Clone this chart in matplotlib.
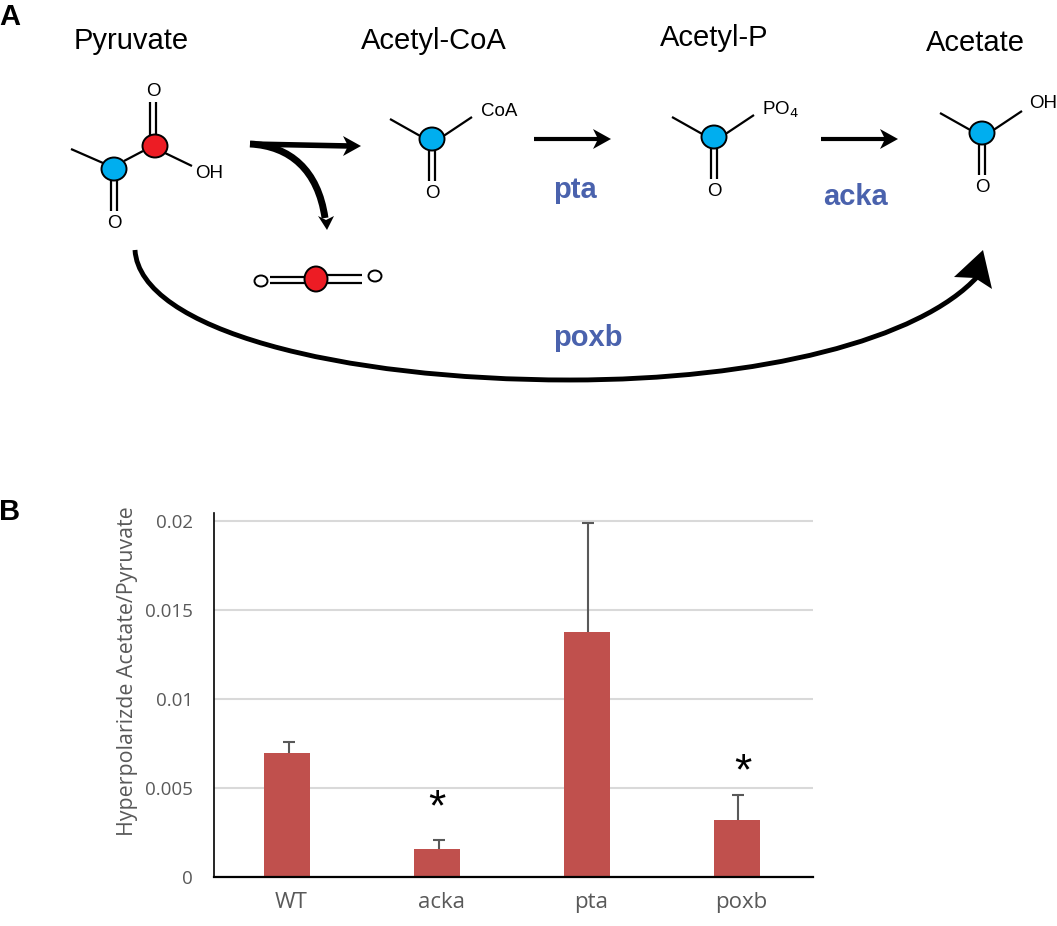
import matplotlib
matplotlib.use("Agg")
import matplotlib.pyplot as plt
from matplotlib.patches import Ellipse, PathPatch, Polygon
from matplotlib.path import Path
from matplotlib.transforms import ScaledTranslation

# bar chart values
strains = ["WT", "acka", "pta", "poxb"]
ratio = [0.00695, 0.0016, 0.01375, 0.0032]
err_top = [0.0076, 0.0021, 0.0199, 0.0046]
yticks = [0, 0.005, 0.01, 0.015, 0.02]
ytick_labels = ["0", "0.005", "0.01", "0.015", "0.02"]
starred = ["acka", "poxb"]
star_heights = [0.00382, 0.00587]

# pathway labels
metabolites = ["Pyruvate", "Acetyl-CoA", "Acetyl-P", "Acetate"]
metabolite_pos = [(131, 41), (434, 41), (714.5, 38), (975, 43)]
enzymes = ["pta", "acka", "poxb"]
enzyme_pos = [(575, 190), (855, 197), (588, 338)]

BLUE = "#00aeef"
RED = "#ed1c24"
ENZYME = "#4a62ad"
BAR = "#c0504d"
GREY = "#595959"
OPEN = ["Open Sans", "DejaVu Sans"]
SANS = ["Liberation Sans", "DejaVu Sans"]

W, H = 1057, 926
fig = plt.figure(figsize=(W / 100, H / 100), dpi=100)

# whole figure overlay in pixels for the pathway drawing
bg = fig.add_axes([0, 0, 1, 1])
bg.set_xlim(0, W)
bg.set_ylim(H, 0)
bg.axis("off")


def atom(x, y, color, rx=12.5, ry=11.5):
    bg.add_patch(Ellipse((x, y), rx * 2, ry * 2, fc=color, ec="black", lw=1.4, zorder=4))


def bond(x0, y0, x1, y1, lw=1.6):
    bg.plot([x0, x1], [y0, y1], color="black", lw=lw, solid_capstyle="butt", zorder=3)


def small(x, y, s):
    bg.text(x, y, s, ha="center", va="center", fontsize=13.5, family=SANS, zorder=5)


def acyl(x, y, label, lx, ly):
    # methyl / carbonyl carbon with the double bonded O underneath
    bond(x - 42, y - 20, x - 10, y - 2)
    bond(x + 10, y - 2, x + 40, y - 22)
    bond(x - 3, y + 10, x - 3, y + 42)
    bond(x + 3, y + 10, x + 3, y + 42)
    atom(x, y, BLUE)
    small(x, y + 55, "O")
    small(lx, ly, label)


def head(tip_x, tip_y):
    bg.add_patch(Polygon([(tip_x, tip_y), (tip_x - 18, tip_y - 10),
                          (tip_x - 13, tip_y), (tip_x - 18, tip_y + 10)],
                         fc="black", ec="none", zorder=3))


# pyruvate
bond(71, 149, 103, 163)
bond(124, 161, 143, 151)
bond(165, 153, 192, 166)
bond(150, 102, 150, 136)
bond(156, 102, 156, 136)
bond(111, 178, 111, 211)
bond(117, 178, 117, 211)
atom(114, 169, BLUE)
atom(155, 146, RED)
small(153, 92, "O")
small(114, 223, "O")
small(209, 174, "OH")

acyl(432, 139, "CoA", 499, 111)
acyl(714, 137, "PO$_4$", 780, 110)
acyl(982, 133, "OH", 1043, 104)

# decarboxylation fork
bg.plot([250, 350], [144, 146], color="black", lw=4, solid_capstyle="butt", zorder=3)
head(361, 146)
bg.add_patch(PathPatch(Path([(250, 144), (290, 146), (318, 170), (325, 218)],
                            [Path.MOVETO, Path.CURVE4, Path.CURVE4, Path.CURVE4]),
                       fc="none", ec="black", lw=5, zorder=3))
bg.add_patch(Polygon([(327, 230), (318, 216), (326, 220), (334, 216)], fc="black", ec="none", zorder=3))

# CO2
for yl, yr in [(277, 275), (283, 283)]:
    bond(270, yl, 306, yl)
    bond(326, yr, 362, yr)
bg.add_patch(Ellipse((261, 281), 13, 11, fc="white", ec="black", lw=1.4, zorder=4))
bg.add_patch(Ellipse((375, 276), 13, 11, fc="white", ec="black", lw=1.4, zorder=4))
atom(316, 279, RED, rx=11.5, ry=12.5)

# pta and acka arrows
for x0, x1 in [(534, 598), (821, 885)]:
    bg.plot([x0, x1], [139, 139], color="black", lw=3, solid_capstyle="butt", zorder=3)
    head(x1 + 13, 139)

# poxb arc
bg.add_patch(PathPatch(Path([(135, 250), (140, 330), (340, 380), (570, 380),
                             (760, 380), (920, 340), (978, 276)],
                            [Path.MOVETO] + [Path.CURVE4] * 6),
                       fc="none", ec="black", lw=3.5, zorder=3))
bg.add_patch(Polygon([(983, 250), (954, 277), (975, 278), (992, 289)], fc="black", ec="none", zorder=3))

for name, (x, y) in zip(metabolites, metabolite_pos):
    bg.text(x, y, name, ha="center", va="center", fontsize=21, family=SANS)
for name, (x, y) in zip(enzymes, enzyme_pos):
    bg.text(x, y, name, ha="center", va="center", fontsize=21, family=SANS,
            fontweight="bold", color=ENZYME)
bg.text(10, 17, "A", ha="center", va="center", fontsize=21, family=SANS, fontweight="bold")
bg.text(10, 512, "B", ha="center", va="center", fontsize=21, family=SANS, fontweight="bold")

# panel B
ax = fig.add_axes([214 / W, 1 - 877 / H, (813 - 214) / W, (877 - 513) / H])
ax.patch.set_alpha(0)
xs = list(range(len(strains)))
ax.bar(xs, ratio, width=0.307, color=BAR, zorder=3)
for x, v, top in zip(xs, ratio, err_top):
    _, caps, _ = ax.errorbar(x + 0.01, v, yerr=[[0], [top - v]], color=GREY, lw=1.5, capsize=4.5,
                             capthick=1.5, zorder=2)
    caps[0].set_visible(False)
for name, y in zip(starred, star_heights):
    star_x = strains.index(name)
    if name == "poxb":
        star_x += 0.04
    ax.text(star_x, y, "*", ha="center", va="center", fontsize=32, family=SANS)

ax.set_xlim(-0.487, 3.507)
ax.set_ylim(0, 0.02045)
ax.set_xticks(xs)
ax.set_xticklabels(strains, family=OPEN, fontsize=16, color=GREY)
ax.set_yticks(yticks)
ax.set_yticklabels(ytick_labels, family=OPEN, fontsize=13.5, color=GREY)
ax.tick_params(length=0, axis="x", pad=11)
ax.tick_params(length=0, axis="y", pad=15)
# category labels sit a little right of the bars in the original
shift = ScaledTranslation(4 / 100, 0, fig.dpi_scale_trans)
for lab in ax.get_xticklabels():
    lab.set_transform(lab.get_transform() + shift)
ax.grid(axis="y", color="#d9d9d9", lw=1.5, zorder=0)
ax.set_axisbelow(True)
for side in ["top", "right"]:
    ax.spines[side].set_visible(False)
ax.spines["left"].set_linewidth(1.2)
ax.spines["bottom"].set_linewidth(1.6)
ax.spines["bottom"].set_zorder(5)
ax.set_ylabel("Hyperpolarizde Acetate/Pyruvate", family=OPEN, fontsize=15.4, color=GREY)
ax.yaxis.set_label_coords((138 - 214) / (813 - 214), (877 - 671.5) / (877 - 513))

fig.savefig("out.png", dpi=100)
